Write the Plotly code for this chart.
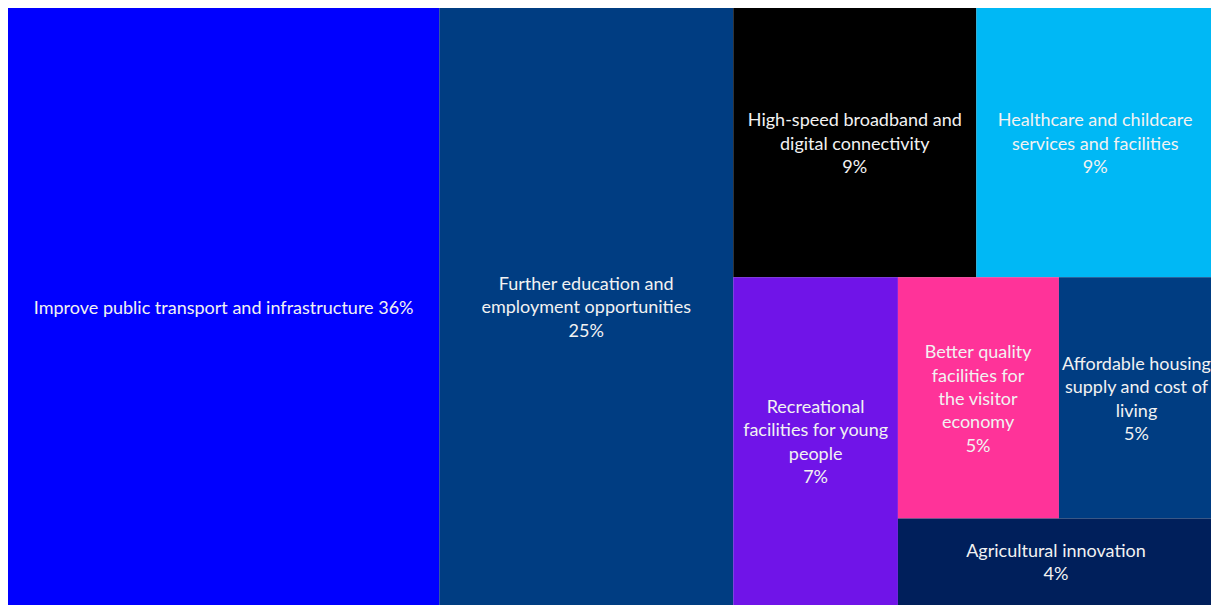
import plotly.graph_objects as go

# priorities, shares of respondents (%) as read from tile areas
labels = [
    "Improve public transport and infrastructure",
    "Further education and employment opportunities",
    "High-speed broadband and digital connectivity",
    "Healthcare and childcare services and facilities",
    "Recreational facilities for young people",
    "Better quality facilities for the visitor economy",
    "Affordable housing supply and cost of living",
    "Agricultural innovation",
]
shares = [35.8, 24.4, 9.1, 8.9, 7.5, 5.4, 5.2, 3.8]
pct_labels = ["36%", "25%", "9%", "9%", "7%", "5%", "5%", "4%"]

# labels broken over lines the way they wrap in the tiles
wrapped = [
    "Improve public transport and infrastructure 36%",
    "Further education and<br>employment opportunities<br>25%",
    "High-speed broadband and<br>digital connectivity<br>9%",
    "Healthcare and childcare<br>services and facilities<br>9%",
    "Recreational<br>facilities for young<br>people<br>7%",
    "Better quality<br>facilities for<br>the visitor<br>economy<br>5%",
    "Affordable housing<br>supply and cost of<br>living<br>5%",
    "Agricultural innovation<br>4%",
]

colors = [
    "#0000ff", "#003d82", "#000000", "#00b8f5",
    "#7014e8", "#ff3399", "#003d82", "#001f5b",
]

fig = go.Figure(
    go.Treemap(
        labels=labels,
        parents=[""] * len(labels),
        values=shares,
        text=wrapped,
        customdata=pct_labels,
        texttemplate="%{text}",
        textposition="middle center",
        hovertemplate="%{label}: %{customdata}<extra></extra>",
        marker=dict(colors=colors, line=dict(width=0), pad=dict(t=0, l=0, r=0, b=0)),
        tiling=dict(packing="squarify", squarifyratio=1, pad=0),
        pathbar=dict(visible=False),
        textfont=dict(family="Source Sans Pro, Lato, sans-serif", size=18, color="#f2f2f2"),
        sort=True,
    )
)

# the page body adds an 8px margin, so the figure is sized to end at the window edge
fig.update_layout(
    width=1211,
    height=597,
    margin=dict(l=0, r=5, t=0, b=0),
    paper_bgcolor="#e5e5e5",
)

fig.write_html("out.html")
